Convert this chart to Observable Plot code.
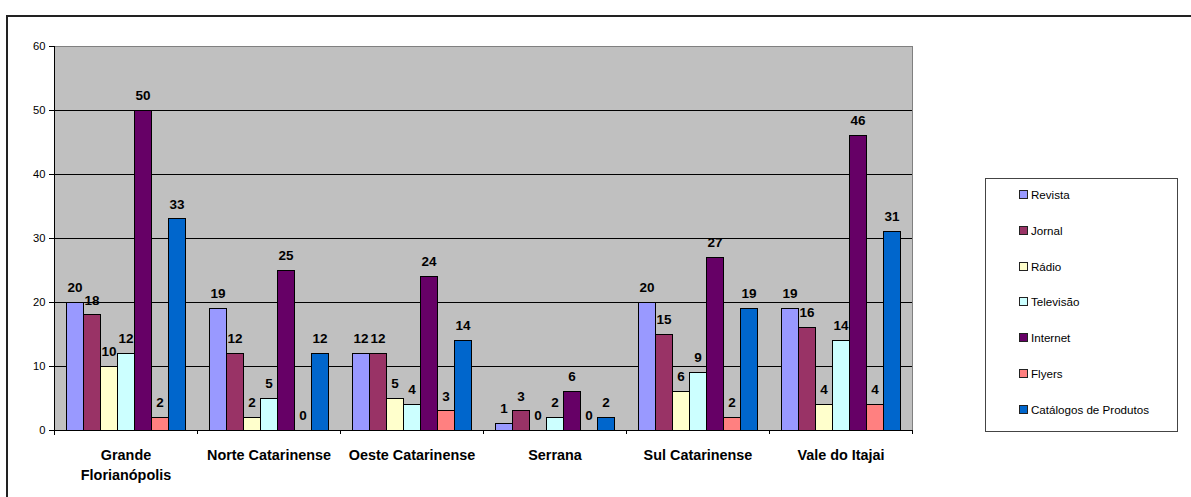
<!DOCTYPE html>
<html>
<head>
<meta charset="utf-8">
<script src="https://cdn.jsdelivr.net/npm/d3@7"></script>
<script src="https://cdn.jsdelivr.net/npm/@observablehq/plot@0.6"></script>
<style>
  html, body { margin: 0; padding: 0; background: #fff; overflow: hidden; }
  #wrap { position: relative; width: 1191px; height: 497px; overflow: hidden; font-family: "Liberation Sans", Arial, sans-serif; }
  #frame { position: absolute; left: 6px; top: 15px; width: 1200px; height: 500px; border: 2px solid #222; box-sizing: border-box; }
  #chart { position: absolute; left: 0; top: 0; }
  #legend { position: absolute; left: 985px; top: 178px; width: 193px; height: 254px; border: 1px solid #444; box-sizing: border-box; background: #fff; }
  .item { position: absolute; left: 33px; font-size: 11.6px; color: #000; display: flex; align-items: center; white-space: nowrap; }
  .sw { width: 7px; height: 7px; border: 1px solid #222; margin-right: 3px; }
  #chart svg rect { shape-rendering: crispEdges; }
</style>
</head>
<body>
<div id="wrap">
  <div id="frame"></div>
  <div id="chart"></div>
  <div id="legend"></div>
</div>
<script>
const categories = ["Grande Florianópolis", "Norte Catarinense", "Oeste Catarinense", "Serrana", "Sul Catarinense", "Vale do Itajai"];
const series = ["Revista", "Jornal", "Rádio", "Televisão", "Internet", "Flyers", "Catálogos de Produtos"];
const colors = ["#9999FF", "#993366", "#FFFFCC", "#CCFFFF", "#660066", "#FF8080", "#0066CC"];
const revista   = [20, 19, 12, 1, 20, 19];
const jornal    = [18, 12, 12, 3, 15, 16];
const radio     = [10, 2, 5, 0, 6, 4];
const televisao = [12, 5, 4, 2, 9, 14];
const internet  = [50, 25, 24, 6, 27, 46];
const flyers    = [2, 0, 3, 0, 2, 4];
const catalogos = [33, 12, 14, 2, 19, 31];
const yTicks = [0, 10, 20, 30, 40, 50, 60];

const valuesBySeries = [revista, jornal, radio, televisao, internet, flyers, catalogos];
const data = [];
categories.forEach((c, i) => {
  series.forEach((s, j) => data.push({region: c, series: s, value: valuesBySeries[j][i]}));
});

const W = 928, H = 497;
const mL = 54, mR = 16, mT = 46, mB = 67;
const step = (W - mL - mR) / categories.length;

const chart = Plot.plot({
  width: W,
  height: H,
  marginLeft: mL,
  marginRight: mR,
  marginTop: mT,
  marginBottom: mB,
  style: {fontFamily: "Liberation Sans, Arial, sans-serif", background: "transparent", color: "#000"},
  fx: {domain: categories, padding: 0, label: null},
  x: {domain: series, paddingInner: 0, paddingOuter: 0.48, axis: null},
  y: {domain: [0, 60], label: null},
  color: {domain: series, range: colors},
  marks: [
    Plot.frame({fill: "#C0C0C0", stroke: "none", insetRight: -0.5}),
    Plot.frame({anchor: "top", stroke: "#808080"}),
    Plot.frame({anchor: "right", stroke: "#808080", facetAnchor: "right"}),
    Plot.ruleY([10, 20, 30, 40, 50], {stroke: "#000", strokeWidth: 1}),
    Plot.barY(data.filter(d => d.value > 0), {fx: "region", x: "series", y: "value", fill: "series", stroke: "#000", strokeWidth: 1, inset: 0}),
    Plot.text(data, {fx: "region", x: "series", y: "value", text: d => String(d.value), dy: -15, lineAnchor: "middle", fontSize: 13.5, fontWeight: "bold", fill: "#000"}),
    Plot.ruleY([0], {stroke: "#000", strokeWidth: 1}),
    Plot.frame({anchor: "left", stroke: "#000", facetAnchor: "left", insetBottom: -4}),
    Plot.axisY({ticks: yTicks, tickSize: 5, tickPadding: 4, fontSize: 11.2, label: null, stroke: "#000"}),
    Plot.axisFx({anchor: "bottom", tickSize: 4, tickFormat: () => "", dx: step / 2, label: null, stroke: "#000"}),
    Plot.axisFx({anchor: "bottom", tickSize: 0, tickPadding: 15, fontSize: 14.4, fontWeight: "bold", lineHeight: 1.4, label: null,
      tickFormat: d => d === "Grande Florianópolis" ? "Grande\nFlorianópolis" : d})
  ]
});
document.getElementById("chart").appendChild(chart);

const legend = document.getElementById("legend");
series.forEach((s, i) => {
  const item = document.createElement("div");
  item.className = "item";
  item.style.top = (9 + i * 35.8) + "px";
  const sw = document.createElement("div");
  sw.className = "sw";
  sw.style.background = colors[i];
  const t = document.createElement("span");
  t.textContent = s;
  item.appendChild(sw);
  item.appendChild(t);
  legend.appendChild(item);
});
</script>
</body>
</html>
